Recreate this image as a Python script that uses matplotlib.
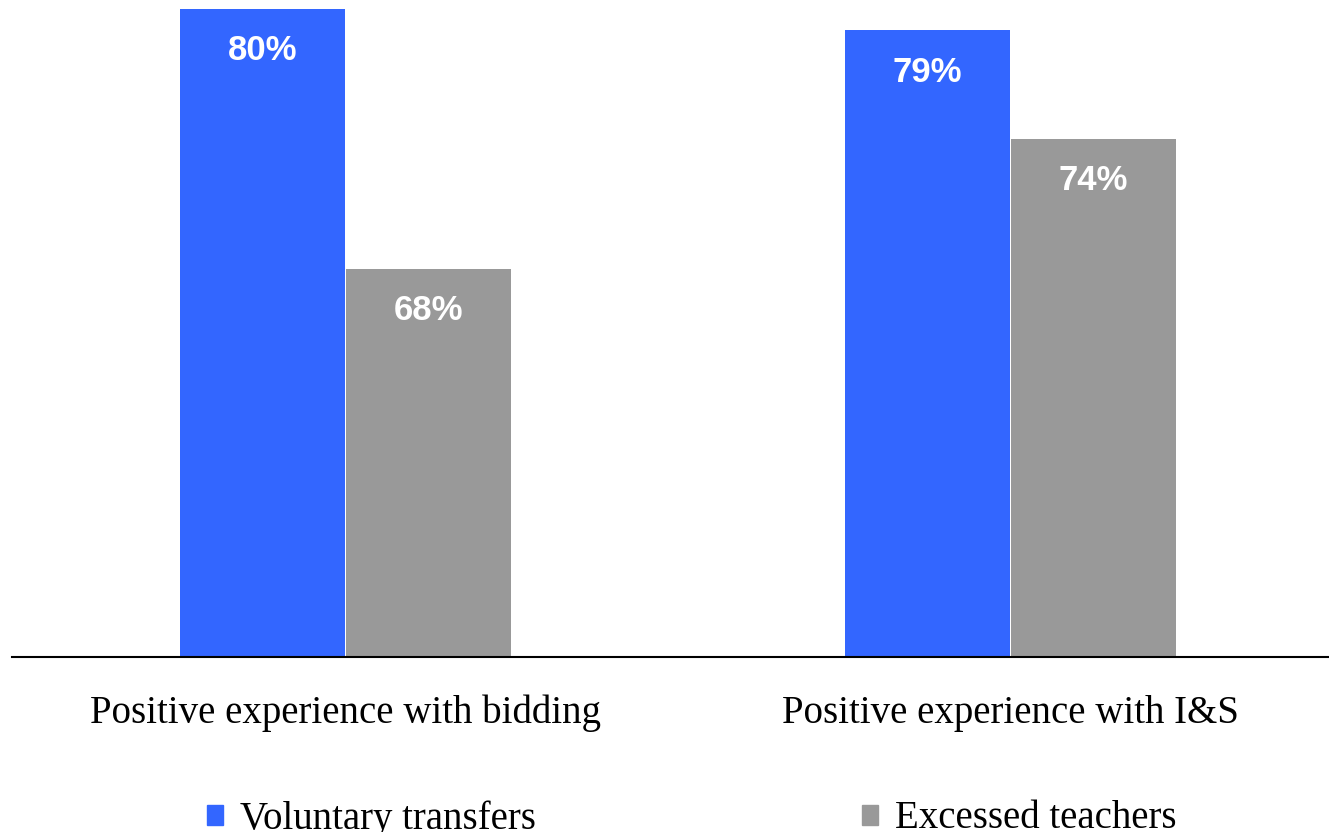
import matplotlib
matplotlib.use("Agg")
import matplotlib.pyplot as plt
from matplotlib.patches import Patch
import numpy as np

categories = ["Positive experience with bidding", "Positive experience with I&S"]
series_names = ["Voluntary transfers", "Excessed teachers"]
voluntary = [80, 79]
excessed = [68, 74]
colors = ["#3366FF", "#999999"]

fig = plt.figure(figsize=(13.29, 8.32), dpi=100)
ax = fig.add_axes([12 / 1329, 1 - 657 / 832, 1 - 12 / 1329, 657 / 832])

x = np.arange(len(categories))
w = 0.248
gap = 0.002
for vals, off, col in [(voluntary, -(w + gap) / 2, colors[0]),
                       (excessed, (w + gap) / 2, colors[1])]:
    bars = ax.bar(x + off, vals, width=w, color=col)
    for b, v in zip(bars, vals):
        ax.annotate(f"{v}%", (b.get_x() + b.get_width() / 2, v),
                    xytext=(0, -30), textcoords="offset points",
                    ha="center", va="center", color="white",
                    fontsize=25, fontweight="bold", family="Liberation Sans")

ax.set_xlim(-0.5015, 1.479)
ax.set_ylim(50.1, 80.4)
for s in ["top", "left", "right"]:
    ax.spines[s].set_visible(False)
ax.spines["bottom"].set_linewidth(1.5)
ax.set_yticks([])
ax.set_xticks(x)
ax.set_xticklabels(categories, family="Liberation Serif", fontsize=28)
ax.tick_params(axis="x", length=0, pad=27)

for name, col, xp in [(series_names[0], colors[0], 207), (series_names[1], colors[1], 862)]:
    leg = fig.legend(handles=[Patch(color=col)], labels=[name],
                     loc="center left", bbox_to_anchor=(xp / 1329, 1 - 819 / 832),
                     frameon=False, borderpad=0, borderaxespad=0,
                     handlelength=0.42, handleheight=0.42, handletextpad=0.42,
                     prop={"family": "Liberation Serif", "size": 28})

fig.savefig("out.png", dpi=100)
